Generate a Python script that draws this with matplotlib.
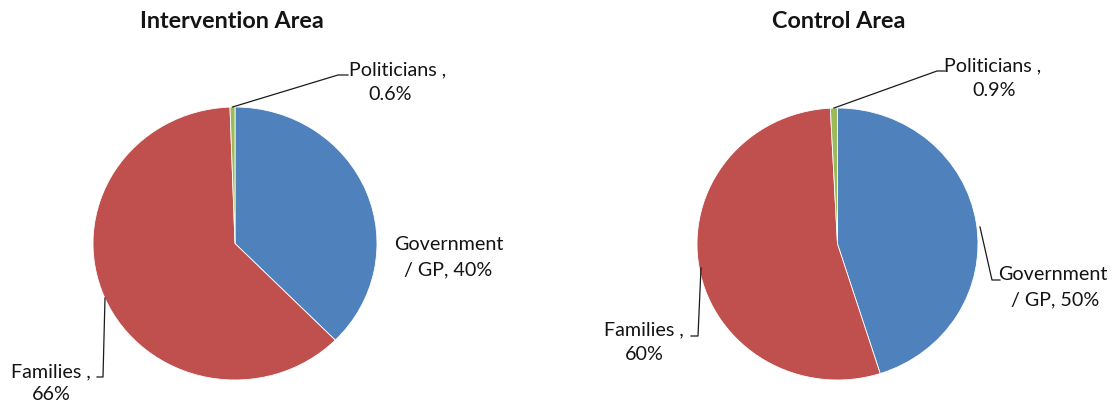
import numpy as np
import matplotlib
matplotlib.use("Agg")
import matplotlib.pyplot as plt

plt.rcParams['font.family'] = ['Lato', 'DejaVu Sans']

# Data
categories = ["Government / GP", "Families", "Politicians"]
titles = ["Intervention Area", "Control Area"]
intervention_values = [40, 66, 0.6]
control_values = [50, 60, 0.9]
value_labels = [["40%", "66%", "0.6%"], ["50%", "60%", "0.9%"]]

colors = ["#4F81BD", "#C0504D", "#9BBB59"]
text_color = "#141414"
LABEL_SIZE = 14.2
TITLE_SIZE = 16.8

W, H = 1118, 401
fig = plt.figure(figsize=(W / 100, H / 100), dpi=100)
fig.patch.set_facecolor("white")

# overlay in pixel coordinates for titles, labels and leader lines
over = fig.add_axes([0, 0, 1, 1], zorder=5)
over.set_xlim(0, W)
over.set_ylim(H, 0)
over.axis("off")


def pie_axes(x0, x1, y0, y1):
    ax = fig.add_axes([x0 / W, 1 - y1 / H, (x1 - x0) / W, (y1 - y0) / H])
    return ax


def to_px(ax, x, y):
    disp = ax.transData.transform((x, y))
    return over.transData.inverted().transform(disp)


layouts = [
    dict(box=(93, 377, 107, 380), title=(232, 22),
         gov=[(449, 245), (448, 270)], gov_lead=None,
         fam=[(51, 372), (51, 394)], fam_lead=[(103, 377), (97, 377)], fam_start=(105, 298),
         pol=[(398, 70), (390, 95)], pol_lead=[(338, 75), (348, 75)]),
    dict(box=(697, 978, 108, 380), title=(839, 22),
         gov=[(1053, 275), (1055, 300)], gov_lead=[(992, 280), (1000, 280)], gov_start=(980, 227),
         fam=[(644, 330), (644, 354)], fam_lead=[(698, 336), (691, 336)], fam_start=(701, 268),
         pol=[(993, 66), (994, 90)], pol_lead=[(937, 71), (945, 71)]),
]

for k, (vals, lay) in enumerate(zip([intervention_values, control_values], layouts)):
    x0, x1, y0, y1 = lay["box"]
    ax = pie_axes(x0, x1, y0, y1)
    wedges, _ = ax.pie(vals, colors=colors, startangle=90, counterclock=False,
                       radius=1.0, wedgeprops=dict(edgecolor="white", linewidth=0.6))
    ax.set_aspect("auto")
    ax.set_xlim(-1, 1)
    ax.set_ylim(-1, 1)
    ax.axis("off")

    over.text(*lay["title"], titles[k], ha="center", va="center",
              fontsize=TITLE_SIZE, fontweight="bold", color=text_color)

    vl = value_labels[k]
    # Government / GP label
    over.text(*lay["gov"][0], "Government", ha="center", va="center",
              fontsize=LABEL_SIZE, color=text_color)
    over.text(*lay["gov"][1], "/ GP, " + vl[0], ha="center", va="center",
              fontsize=LABEL_SIZE, color=text_color)
    # Families label
    over.text(*lay["fam"][0], "Families ,", ha="center", va="center",
              fontsize=LABEL_SIZE, color=text_color)
    over.text(*lay["fam"][1], vl[1], ha="center", va="center",
              fontsize=LABEL_SIZE, color=text_color)
    # Politicians label
    over.text(*lay["pol"][0], "Politicians ,", ha="center", va="center",
              fontsize=LABEL_SIZE, color=text_color)
    over.text(*lay["pol"][1], vl[2], ha="center", va="center",
              fontsize=LABEL_SIZE, color=text_color)

    # leader line for the thin Politicians slice, from its mid-angle on the rim
    w = wedges[2]
    mid = np.deg2rad((w.theta1 + w.theta2) / 2)
    sx, sy = to_px(ax, np.cos(mid), np.sin(mid))
    pts = [(sx, sy)] + lay["pol_lead"]
    over.plot([p[0] for p in pts], [p[1] for p in pts], color="#1a1a1a", lw=0.9)

    pts = [lay["fam_start"]] + lay["fam_lead"]
    over.plot([p[0] for p in pts], [p[1] for p in pts], color="#1a1a1a", lw=0.9)

    if lay["gov_lead"] is not None:
        pts = [lay["gov_start"]] + lay["gov_lead"]
        over.plot([p[0] for p in pts], [p[1] for p in pts], color="#1a1a1a", lw=0.9)

fig.savefig("out.png", dpi=100, facecolor="white")
